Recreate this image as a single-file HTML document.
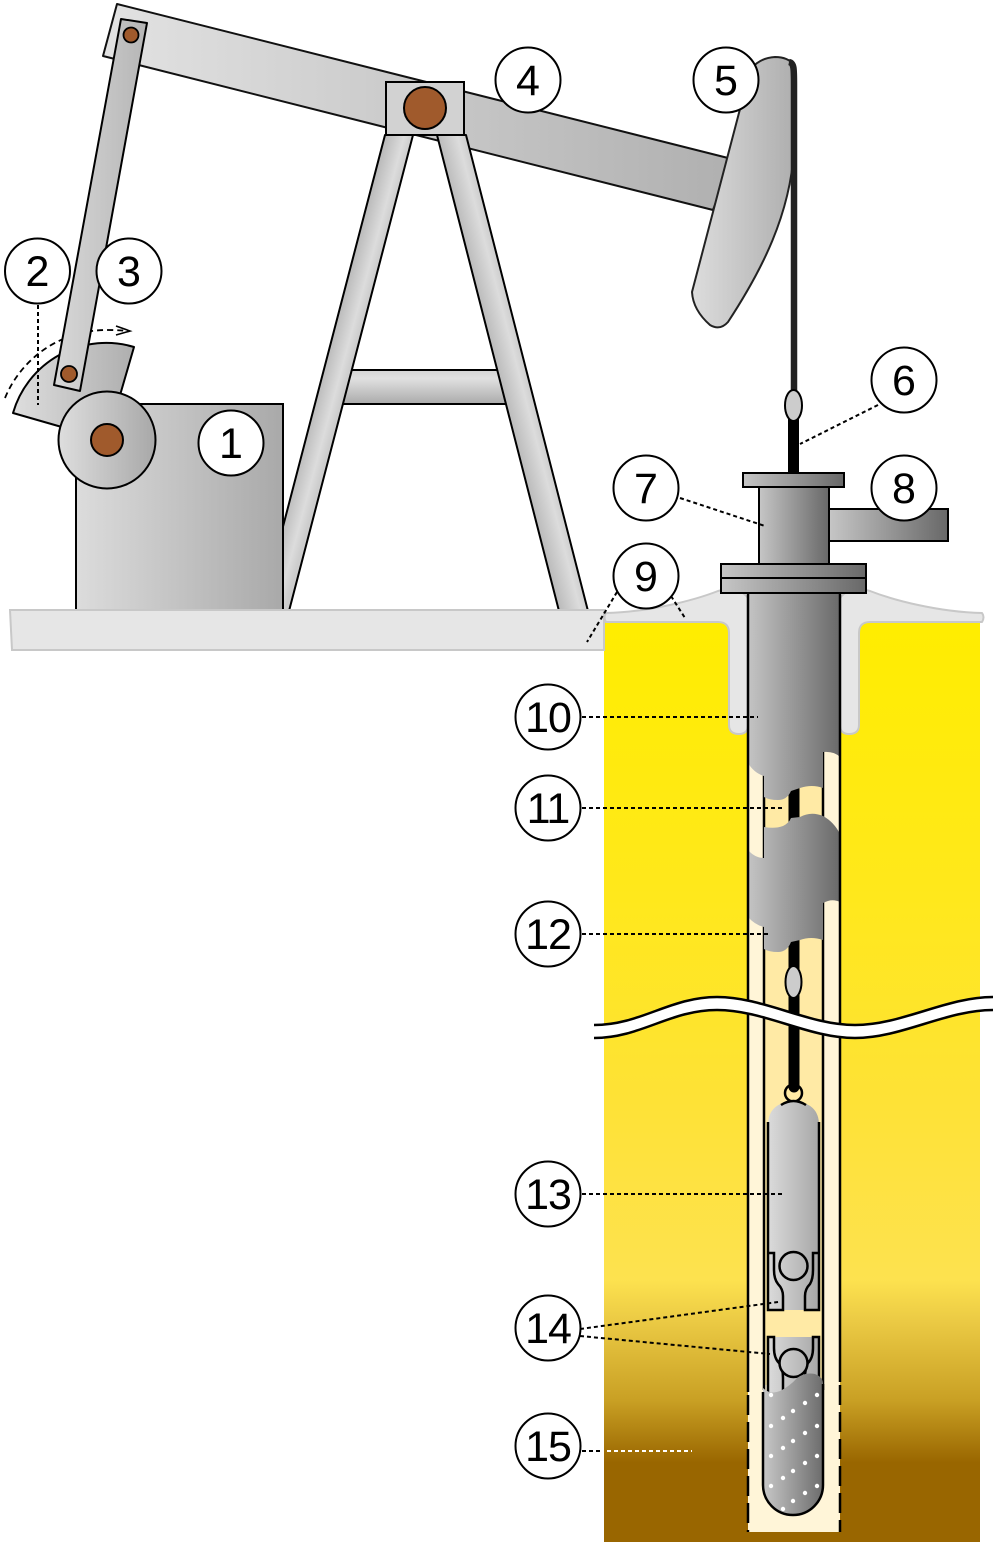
<!DOCTYPE html>
<html><head><meta charset="utf-8"><style>
html,body{margin:0;padding:0;background:#fff}
svg{display:block}
text{font-family:"Liberation Sans",Arial,sans-serif;font-size:43px;text-anchor:middle;fill:#000}
</style></head><body>
<svg width="1000" height="1542" viewBox="0 0 1000 1542" xmlns="http://www.w3.org/2000/svg">
<defs>
 <linearGradient id="gBeam" gradientUnits="userSpaceOnUse" x1="110" y1="0" x2="730" y2="0"><stop offset="0" stop-color="#e2e2e2"/><stop offset="1" stop-color="#b0b0b0"/></linearGradient>
 <linearGradient id="gBox" gradientUnits="userSpaceOnUse" x1="76" y1="0" x2="283" y2="0"><stop offset="0" stop-color="#dcdcdc"/><stop offset="1" stop-color="#a9a9a9"/></linearGradient>
 <linearGradient id="gWheel" gradientUnits="userSpaceOnUse" x1="58" y1="0" x2="156" y2="0"><stop offset="0" stop-color="#dedede"/><stop offset="1" stop-color="#a8a8a8"/></linearGradient>
 <linearGradient id="gSector" gradientUnits="userSpaceOnUse" x1="13" y1="0" x2="135" y2="0"><stop offset="0" stop-color="#dedede"/><stop offset="1" stop-color="#aeaeae"/></linearGradient>
 <linearGradient id="gArm" gradientUnits="userSpaceOnUse" x1="54" y1="0" x2="147" y2="0"><stop offset="0" stop-color="#d8d8d8"/><stop offset="1" stop-color="#b6b6b6"/></linearGradient>
 <linearGradient id="gLegL" gradientUnits="userSpaceOnUse" x1="385" y1="135" x2="411" y2="142"><stop offset="0" stop-color="#b8b8b8"/><stop offset="0.7" stop-color="#dcdcdc"/><stop offset="1" stop-color="#cdcdcd"/></linearGradient>
 <linearGradient id="gLegR" gradientUnits="userSpaceOnUse" x1="437" y1="135" x2="464" y2="128"><stop offset="0" stop-color="#bcbcbc"/><stop offset="0.7" stop-color="#dcdcdc"/><stop offset="1" stop-color="#cdcdcd"/></linearGradient>
 <linearGradient id="gBar" gradientUnits="userSpaceOnUse" x1="0" y1="370" x2="0" y2="404"><stop offset="0" stop-color="#d4d4d4"/><stop offset="0.25" stop-color="#e0e0e0"/><stop offset="1" stop-color="#ababab"/></linearGradient>
 <linearGradient id="gHead" gradientUnits="userSpaceOnUse" x1="692" y1="0" x2="795" y2="0"><stop offset="0" stop-color="#dddddd"/><stop offset="1" stop-color="#aeaeae"/></linearGradient>
 <linearGradient id="gM" x1="0" y1="0" x2="1" y2="0"><stop offset="0" stop-color="#c6c6c6"/><stop offset="1" stop-color="#686868"/></linearGradient>
 <linearGradient id="gT" gradientUnits="userSpaceOnUse" x1="748" y1="0" x2="840" y2="0"><stop offset="0" stop-color="#c4c4c4"/><stop offset="1" stop-color="#6a6a6a"/></linearGradient>
 <linearGradient id="gPl" gradientUnits="userSpaceOnUse" x1="767" y1="0" x2="820" y2="0"><stop offset="0" stop-color="#dcdcdc"/><stop offset="1" stop-color="#a6a6a6"/></linearGradient>
 <linearGradient id="gScr" gradientUnits="userSpaceOnUse" x1="763" y1="0" x2="823" y2="0"><stop offset="0" stop-color="#c8c8c8"/><stop offset="1" stop-color="#6c6c6c"/></linearGradient>
 <linearGradient id="gEarth" gradientUnits="userSpaceOnUse" x1="0" y1="622" x2="0" y2="1542">
  <stop offset="0" stop-color="#ffed00"/>
  <stop offset="0.30" stop-color="#ffe81c"/>
  <stop offset="0.52" stop-color="#fee236"/>
  <stop offset="0.715" stop-color="#fde24f"/>
  <stop offset="0.76" stop-color="#ebca44"/>
  <stop offset="0.846" stop-color="#c9a024"/>
  <stop offset="0.914" stop-color="#996600"/>
  <stop offset="1" stop-color="#996600"/>
 </linearGradient>
</defs>

<!-- earth -->
<rect x="604" y="622" width="376" height="920" fill="url(#gEarth)"/>

<!-- walking beam -->
<polygon points="117,4 732,159 713,210 103,56" fill="url(#gBeam)" stroke="#111" stroke-width="2" stroke-linejoin="round"/>

<!-- crossbar -->
<rect x="340" y="370" width="170" height="34" fill="url(#gBar)" stroke="#000" stroke-width="2"/>
<!-- legs -->
<polygon points="385,135 413,135 289,611 261,611" fill="url(#gLegL)" stroke="#000" stroke-width="2" stroke-linejoin="round"/>
<polygon points="437,135 466,135 588,611 559,611" fill="url(#gLegR)" stroke="#000" stroke-width="2" stroke-linejoin="round"/>

<!-- bearing -->
<rect x="386" y="82" width="78" height="53" fill="#d2d2d2" stroke="#000" stroke-width="2"/>
<circle cx="425" cy="108" r="21" fill="#a05a2c" stroke="#000" stroke-width="2"/>

<!-- motor box -->
<rect x="76" y="404" width="207" height="206" fill="url(#gBox)" stroke="#000" stroke-width="2"/>

<!-- crank sector -->
<path d="M107,440 L13,413 A97,97 0 0,1 134,347 Z" fill="url(#gSector)" stroke="#000" stroke-width="2" stroke-linejoin="round"/>
<!-- dashed rotation arrow -->
<path d="M5,398 A110,110 0 0,1 107,330 Q118,330 128,331" fill="none" stroke="#000" stroke-width="1.8" stroke-dasharray="6,4"/>
<path d="M116,326 L130,331 L116,335" fill="none" stroke="#000" stroke-width="1.6"/>
<!-- wheel -->
<circle cx="107" cy="440" r="48.5" fill="url(#gWheel)" stroke="#000" stroke-width="2"/>
<circle cx="107" cy="440" r="16" fill="#a05a2c" stroke="#000" stroke-width="2"/>

<!-- pitman arm -->
<polygon points="121,19 147,23 80,391 54,385" fill="url(#gArm)" stroke="#000" stroke-width="2" stroke-linejoin="round"/>
<circle cx="131" cy="35" r="7.5" fill="#a05a2c" stroke="#000" stroke-width="1.8"/>
<circle cx="69" cy="374" r="8" fill="#a05a2c" stroke="#000" stroke-width="1.8"/>

<!-- slab -->
<polygon points="10,610 604,610 604,650 12,650" fill="#e6e6e6" stroke="#c8c8c8" stroke-width="2"/>

<!-- horse head -->
<path d="M745,90 L752,68 Q760,58 775,57 Q788,57 794,65 L794,150 C790,215 762,270 728,322 Q720,331 710,325 Q693,310 692,292 Z" fill="url(#gHead)" stroke="#222" stroke-width="2" stroke-linejoin="round"/>
<!-- bridle rope -->
<path d="M789,62 C794,63 794,68 794,85 L794,392" fill="none" stroke="#222" stroke-width="6.5"/>

<!-- polished rod -->
<rect x="788" y="418" width="11" height="56" fill="#000"/>
<ellipse cx="793.5" cy="405.5" rx="8.5" ry="15.5" fill="#cccccc" stroke="#000" stroke-width="2"/>

<!-- concrete collar -->
<g fill="#e6e6e6" stroke="#c8c8c8" stroke-width="2" stroke-linejoin="round">
 <path d="M606,613 C650,612 695,600 718,591 Q738,585 748,598 L748,725 Q748,734 739,734 Q729,734 729,725 L729,633 Q729,622 718,622 L606,622 Q603,617 606,613 Z"/>
 <path transform="translate(1588,0) scale(-1,1)" d="M606,613 C650,612 695,600 718,591 Q738,585 748,598 L748,725 Q748,734 739,734 Q729,734 729,725 L729,633 Q729,622 718,622 L606,622 Q603,617 606,613 Z"/>
</g>

<!-- bore -->
<rect x="748" y="593" width="92" height="939" fill="#fff5d8"/>
<rect x="764" y="593" width="59" height="792" fill="#ffeaa5"/>
<line x1="764" y1="593" x2="764" y2="1390" stroke="#000" stroke-width="2.5"/>
<line x1="823" y1="593" x2="823" y2="1390" stroke="#000" stroke-width="2.5"/>
<circle cx="793.5" cy="1093" r="8.5" fill="#ffeaa5" stroke="#000" stroke-width="2.5"/>
<line x1="794" y1="780" x2="794" y2="1087" stroke="#000" stroke-width="11" stroke-linecap="round"/>
<ellipse cx="793.5" cy="982" rx="8" ry="16" fill="#cccccc" stroke="#000" stroke-width="2"/>

<path d="M748,593 H840 V757 Q834,751 823,752 V788 Q812,784 800,788 L791,791 Q787,800 778,800 Q769,800 764,797 V776 Q754,773 748,763 Z" fill="url(#gT)"/>
<path d="M748,850 Q755,858 764,858 V827 Q775,829 783,826 Q789,823 791,818 L800,817 Q811,811 823,816 Q834,822 840,834 V902 Q832,898 823,903 V940 Q811,936 800,940 L791,942 Q787,952 778,952 Q769,952 764,949 V927 Q755,925 748,917 Z" fill="url(#gT)"/>

<!-- plunger -->
<path d="M768,1125 Q768,1103 793.5,1101 Q819,1103 819,1125 V1310 H768 Z" fill="url(#gPl)"/>
<path d="M781,1105 Q793.5,1097 806,1105" fill="none" stroke="#000" stroke-width="2.5"/>
<path d="M768,1122 V1310 H783 V1296 Q783,1289 778,1284 Q774,1279 774,1270 V1253 H768" fill="none" stroke="#000" stroke-width="2.5"/>
<path d="M819,1122 V1310 H805 V1296 Q805,1289 810,1284 Q813,1279 813,1270 V1253 H819" fill="none" stroke="#000" stroke-width="2.5"/>
<circle cx="793.5" cy="1266" r="14" fill="url(#gPl)" stroke="#000" stroke-width="2.5"/>

<!-- standing valve -->
<rect x="768" y="1337" width="51" height="58" fill="url(#gPl)"/>
<path d="M768,1395 V1337 H774 V1348 Q774,1358 779,1363 Q783,1368 783,1378 V1395" fill="none" stroke="#000" stroke-width="2.5"/>
<path d="M819,1395 V1337 H813 V1348 Q813,1358 808,1363 Q805,1368 805,1378 V1395" fill="none" stroke="#000" stroke-width="2.5"/>
<circle cx="793.5" cy="1363" r="14" fill="url(#gPl)" stroke="#000" stroke-width="2.5"/>

<!-- screen -->
<path d="M763,1388 Q770,1395 780,1391 Q790,1386 797,1378 Q805,1372 815,1374 Q823,1377 823,1384 V1485 A30,30 0 0,1 763,1485 Z" fill="url(#gScr)"/>
<path d="M763,1392 V1485 A30,30 0 0,0 823,1485 V1384" fill="none" stroke="#000" stroke-width="2.5"/>
<g fill="#fff">
 <circle cx="771" cy="1395" r="2.2"/><circle cx="817" cy="1395" r="2.2"/><circle cx="805" cy="1403" r="2.2"/>
 <circle cx="793" cy="1411" r="2.2"/><circle cx="783" cy="1418" r="2.2"/><circle cx="771" cy="1426" r="2.2"/>
 <circle cx="817" cy="1426" r="2.2"/><circle cx="805" cy="1433" r="2.2"/><circle cx="793" cy="1441" r="2.2"/>
 <circle cx="783" cy="1448" r="2.2"/><circle cx="771" cy="1456" r="2.2"/><circle cx="817" cy="1456" r="2.2"/>
 <circle cx="805" cy="1463" r="2.2"/><circle cx="793" cy="1471" r="2.2"/><circle cx="783" cy="1478" r="2.2"/>
 <circle cx="771" cy="1486" r="2.2"/><circle cx="817" cy="1486" r="2.2"/><circle cx="805" cy="1493" r="2.2"/>
 <circle cx="793" cy="1501" r="2.2"/><circle cx="783" cy="1509" r="2.2"/>
</g>

<!-- casing outer lines -->
<line x1="748" y1="593" x2="748" y2="1392" stroke="#000" stroke-width="2.5"/>
<line x1="840" y1="593" x2="840" y2="1382" stroke="#000" stroke-width="2.5"/>
<line x1="748" y1="1395" x2="748" y2="1532" stroke="#000" stroke-width="2.5" stroke-dasharray="20,7"/>
<line x1="840" y1="1385" x2="840" y2="1532" stroke="#000" stroke-width="2.5" stroke-dasharray="20,7"/>

<!-- wellhead -->
<rect x="829" y="509" width="119" height="32" fill="url(#gM)" stroke="#000" stroke-width="2"/>
<rect x="759" y="487" width="70" height="77" fill="url(#gM)" stroke="#000" stroke-width="2"/>
<rect x="743" y="473" width="101" height="14" fill="url(#gM)" stroke="#000" stroke-width="2"/>
<rect x="721" y="564" width="145" height="14" fill="url(#gM)" stroke="#000" stroke-width="2"/>
<rect x="721" y="578" width="145" height="15" fill="url(#gM)" stroke="#000" stroke-width="2"/>

<!-- break band -->
<path d="M594,1025 C641,1025 670,997 717,997 C764,997 808,1025 855,1025 C902,1025 946,997 993,997 L993,1010 C946,1010 902,1038 855,1038 C808,1038 764,1010 717,1010 C670,1010 641,1038 594,1038 Z" fill="#fff"/>
<path d="M594,1025 C641,1025 670,997 717,997 C764,997 808,1025 855,1025 C902,1025 946,997 993,997" fill="none" stroke="#000" stroke-width="2.5"/>
<path d="M594,1038 C641,1038 670,1010 717,1010 C764,1010 808,1038 855,1038 C902,1038 946,1010 993,1010" fill="none" stroke="#000" stroke-width="2.5"/>

<!-- leader lines -->
<g stroke="#000" stroke-width="2" stroke-dasharray="4,3" fill="none">
 <line x1="38" y1="305" x2="38" y2="405"/>
 <line x1="878" y1="405" x2="800" y2="444"/>
 <line x1="680" y1="498" x2="765" y2="526"/>
 <line x1="617" y1="592" x2="587" y2="642"/>
 <line x1="671" y1="596" x2="685" y2="618"/>
 <line x1="582" y1="717" x2="758" y2="717"/>
 <line x1="582" y1="808" x2="785" y2="808"/>
 <line x1="582" y1="934" x2="771" y2="934"/>
 <line x1="582" y1="1194" x2="785" y2="1194"/>
 <line x1="580" y1="1329" x2="778" y2="1302"/>
 <line x1="580" y1="1336" x2="770" y2="1354"/>
 <line x1="582" y1="1451" x2="603" y2="1451"/>
</g>
<line x1="607" y1="1451" x2="692" y2="1451" stroke="#fff" stroke-width="2" stroke-dasharray="4,3"/>

<!-- label circles -->
<g fill="#fff" stroke="#000" stroke-width="2">
 <circle cx="231" cy="443" r="32.5"/>
 <circle cx="37.5" cy="271" r="32.5"/>
 <circle cx="129" cy="271" r="32.5"/>
 <circle cx="528" cy="80" r="32.5"/>
 <circle cx="726" cy="80" r="32.5"/>
 <circle cx="904" cy="380" r="32.5"/>
 <circle cx="646" cy="488" r="32.5"/>
 <circle cx="904" cy="488" r="32.5"/>
 <circle cx="646" cy="576" r="32.5"/>
 <circle cx="548" cy="717" r="32.5"/>
 <circle cx="548" cy="808" r="32.5"/>
 <circle cx="548" cy="934" r="32.5"/>
 <circle cx="548" cy="1194" r="32.5"/>
 <circle cx="548" cy="1328" r="32.5"/>
 <circle cx="548" cy="1446" r="32.5"/>
</g>
<g>
 <text x="231" y="458">1</text>
 <text x="37.5" y="286">2</text>
 <text x="129" y="286">3</text>
 <text x="528" y="95">4</text>
 <text x="726" y="95">5</text>
 <text x="904" y="395">6</text>
 <text x="646" y="503">7</text>
 <text x="904" y="503">8</text>
 <text x="646" y="591">9</text>
 <text x="548" y="732" letter-spacing="-1">10</text>
 <text x="548" y="823" letter-spacing="-1">11</text>
 <text x="548" y="949" letter-spacing="-1">12</text>
 <text x="548" y="1209" letter-spacing="-1">13</text>
 <text x="548" y="1343" letter-spacing="-1">14</text>
 <text x="548" y="1461" letter-spacing="-1">15</text>
</g>
</svg>
</body></html>
